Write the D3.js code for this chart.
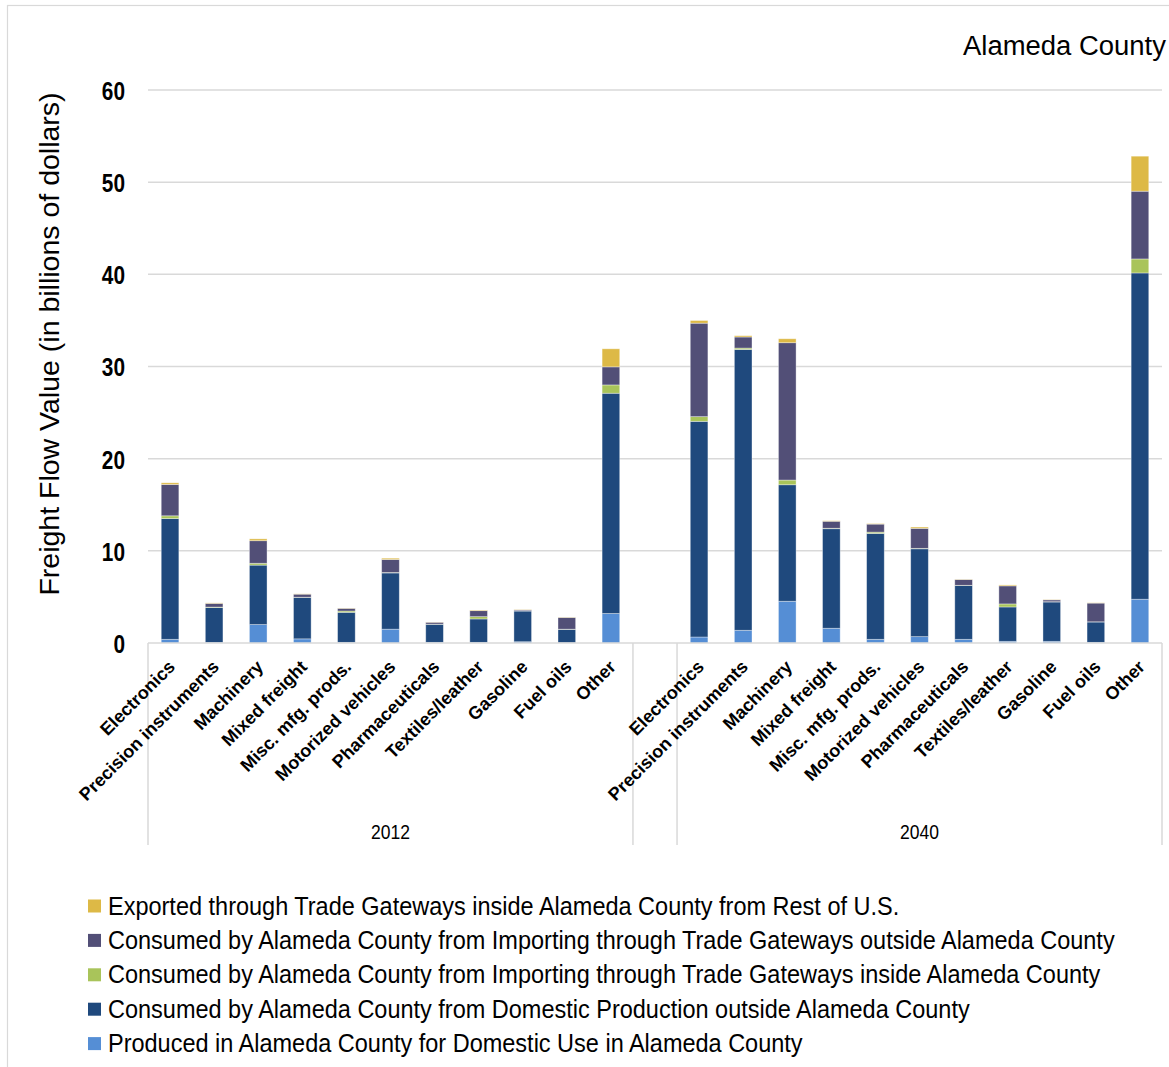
<!DOCTYPE html>
<html>
<head>
<meta charset="utf-8">
<script src="https://cdn.jsdelivr.net/npm/d3@7"></script>
<style>
  html, body { margin: 0; padding: 0; background: #fff; }
  svg { display: block; }
  text { font-family: "Liberation Sans", Arial, Helvetica, sans-serif; }
  .cat { font-weight: bold; }
</style>
</head>
<body>
<svg id="chart" width="1169" height="1067"></svg>
<script>
// Commodity groups shown for each year
const categories = ["Electronics", "Precision instruments", "Machinery", "Mixed freight",
  "Misc. mfg. prods.", "Motorized vehicles", "Pharmaceuticals", "Textiles/leather",
  "Gasoline", "Fuel oils", "Other"];
const years = ["2012", "2040"];
const yTicks = [0, 10, 20, 30, 40, 50, 60];

// Freight flow value, billions of dollars (stack order: bottom to top)
const produced2012   = [0.40, 0.05, 2.00, 0.45, 0.07, 1.50, 0.07, 0.07, 0.14, 0.03, 3.20];
const domestic2012   = [13.10, 3.80, 6.45, 4.50, 3.26, 6.10, 1.96, 2.54, 3.33, 1.45, 23.90];
const importIn2012   = [0.30, 0.05, 0.20, 0.02, 0.14, 0.05, 0.02, 0.25, 0.02, 0.02, 0.90];
const importOut2012  = [3.40, 0.40, 2.45, 0.33, 0.29, 1.41, 0.20, 0.65, 0.10, 1.27, 1.96];
const exported2012   = [0.18, 0.05, 0.20, 0.03, 0.03, 0.14, 0.02, 0.07, 0.03, 0.03, 1.96];

const produced2040   = [0.65, 1.38, 4.53, 1.60, 0.40, 0.69, 0.40, 0.18, 0.18, 0.07, 4.75];
const domestic2040   = [23.40, 30.47, 12.64, 10.80, 11.49, 9.53, 5.83, 3.73, 4.27, 2.21, 35.40];
const importIn2040   = [0.51, 0.15, 0.51, 0.05, 0.14, 0.05, 0.03, 0.33, 0.03, 0.02, 1.52];
const importOut2040  = [10.14, 1.20, 14.90, 0.76, 0.87, 2.17, 0.62, 1.96, 0.20, 2.03, 7.35];
const exported2040   = [0.29, 0.14, 0.43, 0.05, 0.05, 0.14, 0.03, 0.10, 0.03, 0.03, 3.80];

const seriesKeys = ["produced", "domestic", "importIn", "importOut", "exported"];
const seriesLabels = {
  exported:  "Exported through Trade Gateways inside Alameda County from Rest of U.S.",
  importOut: "Consumed by Alameda County from Importing through Trade Gateways outside Alameda County",
  importIn:  "Consumed by Alameda County from Importing through Trade Gateways inside Alameda County",
  domestic:  "Consumed by Alameda County from Domestic Production outside Alameda County",
  produced:  "Produced in Alameda County for Domestic Use in Alameda County"
};
const seriesColors = {
  produced:  "#558ED5",
  domestic:  "#1F497D",
  importIn:  "#A9C45A",
  importOut: "#524F77",
  exported:  "#DDB946"
};
const legendOrder = ["exported", "importOut", "importIn", "domestic", "produced"];

const byYear = {
  "2012": { produced: produced2012, domestic: domestic2012, importIn: importIn2012, importOut: importOut2012, exported: exported2012 },
  "2040": { produced: produced2040, domestic: domestic2040, importIn: importIn2040, importOut: importOut2040, exported: exported2040 }
};

// Flat table: one row per (year, category); a blank slot separates the years
const rows = [];
const slots = [];
years.forEach((yr, yi) => {
  if (yi > 0) slots.push("gap-" + yi);
  categories.forEach((c, ci) => {
    const key = yr + "|" + c;
    slots.push(key);
    const r = { key, year: yr, category: c };
    seriesKeys.forEach(s => r[s] = byYear[yr][s][ci]);
    rows.push(r);
  });
});

const svg = d3.select("#chart");
svg.append("rect").attr("width", 1169).attr("height", 1067).attr("fill", "#fff");
// outer chart frame
svg.append("rect")
  .attr("x", 7.5).attr("y", 5.5).attr("width", 1200).attr("height", 1100)
  .attr("fill", "none").attr("stroke", "#d9d9d9").attr("stroke-width", 1.2);

const plotLeft = 148, plotRight = 1162, plotTop = 90, plotBottom = 643;

const x = d3.scaleBand().domain(slots).range([plotLeft, plotRight]).paddingInner(0).paddingOuter(0);
const y = d3.scaleLinear().domain([0, 60]).range([plotBottom, plotTop]);

// gridlines
svg.append("g").selectAll("line")
  .data(yTicks.filter(t => t > 0))
  .join("line")
  .attr("x1", plotLeft).attr("x2", plotRight)
  .attr("y1", d => y(d)).attr("y2", d => y(d))
  .attr("stroke", "#d9d9d9").attr("stroke-width", 1.5);

// y axis tick labels (condensed)
const yAxis = d3.axisLeft(y).tickValues(yTicks).tickSize(0).tickPadding(0).tickFormat(d3.format("d"));
const gy = svg.append("g").attr("transform", `translate(125,0)`).call(yAxis);
gy.select(".domain").remove();
gy.selectAll("text")
  .attr("font-family", "Liberation Sans, Arial, sans-serif")
  .attr("font-size", 26).attr("font-weight", "bold").attr("fill", "#000")
  .attr("x", 0).attr("dy", "0.36em")
  .attr("transform", "scale(0.8,1)");

// y axis title
svg.append("text")
  .attr("transform", `translate(59,344) rotate(-90)`)
  .attr("text-anchor", "middle")
  .attr("font-size", 28.5)
  .attr("fill", "#000")
  .text("Freight Flow Value (in billions of dollars)");

// stacked bars
const stack = d3.stack().keys(seriesKeys);
const stacked = stack(rows);
const barW = x.bandwidth() * 0.4;

svg.append("g").selectAll("g")
  .data(stacked)
  .join("g")
  .attr("fill", d => seriesColors[d.key])
  .selectAll("rect")
  .data(d => d)
  .join("rect")
  .attr("x", d => x(d.data.key) + (x.bandwidth() - barW) / 2)
  .attr("width", barW)
  .attr("y", d => y(d[1]))
  .attr("height", d => Math.max(0, y(d[0]) - y(d[1])))
  .attr("stroke", "#ffffff").attr("stroke-opacity", 0.45).attr("stroke-width", 0.8);

// category axis baseline
svg.append("line")
  .attr("x1", plotLeft).attr("x2", plotRight)
  .attr("y1", plotBottom).attr("y2", plotBottom)
  .attr("stroke", "#d9d9d9").attr("stroke-width", 1.5);

// group separators
const groupEdges = [];
years.forEach(yr => {
  const first = x(yr + "|" + categories[0]);
  const last = x(yr + "|" + categories[categories.length - 1]) + x.bandwidth();
  groupEdges.push(first, last);
});
svg.append("g").selectAll("line")
  .data(groupEdges)
  .join("line")
  .attr("x1", d => d).attr("x2", d => d)
  .attr("y1", plotBottom).attr("y2", 845)
  .attr("stroke", "#d9d9d9").attr("stroke-width", 1.5);

// category labels
svg.append("g").selectAll("text")
  .data(rows)
  .join("text")
  .attr("class", "cat")
  .attr("font-size", 18)
  .attr("fill", "#000")
  .attr("text-anchor", "end")
  .attr("transform", d => `translate(${x(d.key) + x.bandwidth() / 2 + 6},${plotBottom + 25}) rotate(-45)`)
  .text(d => d.category);

// year labels
svg.append("g").selectAll("text")
  .data(years)
  .join("text")
  .attr("font-size", 20)
  .attr("fill", "#000")
  .attr("text-anchor", "middle")
  .attr("transform", yr => {
    const cx = (x(yr + "|" + categories[0]) + x(yr + "|" + categories[categories.length - 1]) + x.bandwidth()) / 2;
    return `translate(${cx},839) scale(0.875,1)`;
  })
  .text(d => d);

// chart title
svg.append("text")
  .attr("transform", "translate(963,55) scale(0.98,1)")
  .attr("font-size", 28)
  .attr("fill", "#000")
  .text("Alameda County");

// legend
const legend = svg.append("g").selectAll("g")
  .data(legendOrder)
  .join("g")
  .attr("transform", (d, i) => `translate(88,${906 + i * 34.4})`);
legend.append("rect")
  .attr("x", 0).attr("y", -6.5).attr("width", 13).attr("height", 13)
  .attr("fill", d => seriesColors[d]);
legend.append("text")
  .attr("transform", "translate(20,8.5) scale(0.94,1)")
  .attr("font-size", 25)
  .attr("fill", "#000")
  .text(d => seriesLabels[d]);
</script>
</body>
</html>
